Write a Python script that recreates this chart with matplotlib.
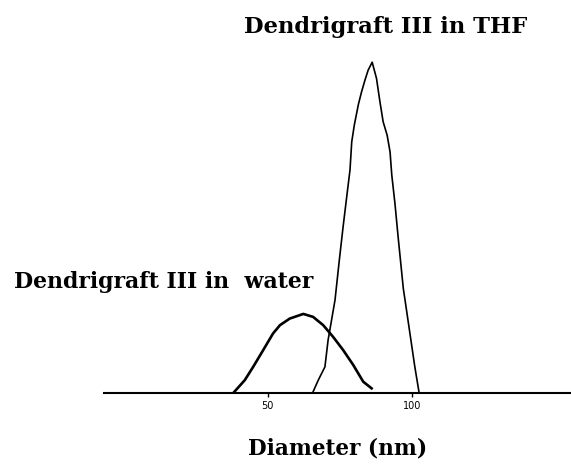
import matplotlib.pyplot as plt

# diameter (nm) vs relative intensity
thf_diam = [65.5, 67.5, 69.8, 70.9, 73.3, 74.8, 76.1, 77.5, 78.5, 79.1, 80.0,
            81.4, 82.5, 83.7, 84.8, 86.2, 87.7, 88.9, 90.0, 91.4, 92.4, 93.0,
            94.1, 95.2, 97.0, 97.6, 99.3, 101.0, 102.5]
thf_int = [0, 3.9, 7.9, 16.0, 28.1, 40.2, 50.2, 60.3, 67.4, 75.9, 81.0,
           87.2, 91.0, 94.6, 97.6, 100, 95.1, 88.0, 82.0, 77.9, 72.9, 65.9,
           57.3, 47.2, 31.6, 28.1, 18.0, 7.9, 0]

water_diam = [38.0, 42.0, 44.9, 48.4, 51.8, 54.2, 57.6, 62.3, 65.7, 69.2,
              72.7, 76.1, 79.6, 83.1, 86.0]
water_int = [0, 3.9, 7.9, 13.0, 18.0, 20.5, 22.5, 23.9, 23.0, 20.5,
             16.9, 13.0, 8.5, 3.4, 1.4]

tick_vals = [50, 100]


def main():
    fig = plt.figure(figsize=(5.71, 4.67), dpi=100)
    ax = fig.add_axes([0.182, 0.1585, 0.818, 0.777])

    ax.plot(thf_diam, thf_int, color='black', linewidth=1.2)
    ax.plot(water_diam, water_int, color='black', linewidth=1.9)

    ax.set_xlim(-6.9, 155.2)
    ax.set_ylim(0, 109.7)

    for side in ['top', 'right', 'left']:
        ax.spines[side].set_visible(False)
    ax.spines['bottom'].set_linewidth(1.5)
    ax.set_yticks([])
    ax.set_xticks(tick_vals)
    ax.set_xticklabels([str(v) for v in tick_vals])
    ax.tick_params(axis='x', direction='out', length=3, width=1,
                   labelsize=7, pad=3)

    serif = ['DejaVu Serif']
    fig.text(385.5 / 571, 1 - 27 / 467, 'Dendrigraft III in THF',
             family=serif, weight='bold', fontsize=16.3,
             ha='center', va='center')
    fig.text(163.5 / 571, 1 - 282 / 467, 'Dendrigraft III in  water',
             family=serif, weight='bold', fontsize=15.8,
             ha='center', va='center')
    fig.text(338 / 571, 1 - 449 / 467, 'Diameter (nm)',
             family=serif, weight='bold', fontsize=15.6,
             ha='center', va='center')

    plt.savefig('out.png', dpi=100)


if __name__ == '__main__':
    main()
